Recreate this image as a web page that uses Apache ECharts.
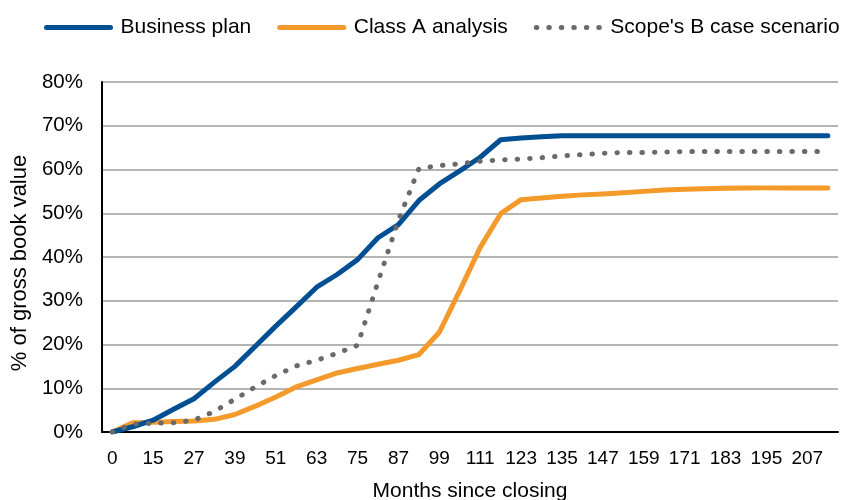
<!DOCTYPE html>
<html>
<head>
<meta charset="utf-8">
<script src="https://cdn.jsdelivr.net/npm/echarts@6/dist/echarts.min.js"></script>
<style>html,body{margin:0;padding:0;background:#fff}#c{width:849px;height:500px}</style>
</head>
<body>
<div id="c"></div>
<script>
// Months since closing (category labels; every other one shown)
var months = ['0','9','15','21','27','33','39','45','51','57','63','69','75','81','87','93','99','105','111','117','123','129','135','141','147','153','159','165','171','177','183','189','195','201','207','213'];
var yTicks = [0, 10, 20, 30, 40, 50, 60, 70, 80];
var businessPlan = [0, 1.2, 2.7, 5.2, 7.6, 11.4, 15.0, 19.6, 24.2, 28.6, 33.1, 36.0, 39.4, 44.4, 47.4, 52.9, 56.7, 59.7, 62.8, 66.8, 67.2, 67.5, 67.7, 67.7, 67.7, 67.7, 67.7, 67.7, 67.7, 67.7, 67.7, 67.7, 67.7, 67.7, 67.7, 67.7];
var classA = [0, 2.1, 2.2, 2.4, 2.5, 2.9, 4.0, 5.9, 8.0, 10.3, 11.9, 13.5, 14.5, 15.5, 16.4, 17.7, 22.8, 32.3, 42.2, 49.9, 53.1, 53.5, 53.9, 54.2, 54.4, 54.7, 55.0, 55.3, 55.5, 55.6, 55.7, 55.75, 55.8, 55.8, 55.8, 55.8];
var scopeB = [0, 1.8, 2.0, 2.1, 2.7, 4.7, 7.5, 10.3, 12.9, 15.1, 16.4, 18.0, 19.8, 34.3, 48.4, 60.2, 60.9, 61.3, 61.9, 62.2, 62.4, 62.7, 63.1, 63.4, 63.7, 63.9, 63.9, 64.0, 64.1, 64.1, 64.1, 64.1, 64.1, 64.1, 64.1, 64.1];

var FONT = 'Liberation Sans, Arial, sans-serif';
var chart = echarts.init(document.getElementById('c'), null, {renderer: 'canvas'});
chart.setOption({
  animation: false,
  backgroundColor: '#ffffff',
  textStyle: {fontFamily: FONT, color: '#000'},
  legend: {
    left: 44, top: 17, width: 805, padding: 0,
    itemWidth: 64, itemHeight: 14, itemGap: 26,
    textStyle: {fontSize: 21, color: '#000', fontFamily: FONT, padding: [0, 0, 0, 5]},
    itemStyle: {opacity: 0},
    lineStyle: {width: 5},
    data: ['Business plan', 'Class A analysis', "Scope's B case scenario"]
  },
  grid: {left: 102, right: 11, top: 82, bottom: 68, containLabel: false, outerBoundsMode: 'none'},
  xAxis: {
    type: 'category',
    data: months,
    boundaryGap: true,
    name: 'Months since closing',
    nameLocation: 'middle',
    nameGap: 49,
    nameTextStyle: {fontSize: 21, color: '#000', fontFamily: FONT},
    axisLine: {show: true, lineStyle: {color: '#000', width: 2}},
    axisTick: {show: false},
    axisLabel: {interval: 1, fontSize: 19, color: '#000', margin: 17, fontFamily: FONT}
  },
  yAxis: {
    type: 'value',
    min: yTicks[0], max: yTicks[yTicks.length - 1], interval: 10,
    name: '% of gross book value',
    nameLocation: 'middle',
    nameGap: 63,
    nameTextStyle: {fontSize: 22, color: '#000', fontFamily: FONT, padding: [0, 12, 0, 0]},
    axisLine: {show: true, lineStyle: {color: '#000', width: 2}},
    axisTick: {show: false},
    axisLabel: {formatter: '{value}%', fontSize: 20.5, color: '#000', margin: 19, fontFamily: FONT},
    splitLine: {show: true, lineStyle: {color: '#b4b4b4', width: 2}}
  },
  series: [
    {
      name: 'Business plan', type: 'line', data: businessPlan,
      symbol: 'none', showSymbol: false, z: 3,
      lineStyle: {color: '#004f92', width: 5, cap: 'round', join: 'round'},
      itemStyle: {color: '#004f92'}
    },
    {
      name: 'Class A analysis', type: 'line', data: classA,
      symbol: 'none', showSymbol: false, z: 2,
      lineStyle: {color: '#f39a2b', width: 5, cap: 'round', join: 'round'},
      itemStyle: {color: '#f39a2b'}
    },
    {
      name: "Scope's B case scenario", type: 'line', data: scopeB,
      symbol: 'none', showSymbol: false, z: 4,
      lineStyle: {color: '#6a6a6a', width: 5, type: [0.5, 12], cap: 'round', join: 'round'},
      itemStyle: {color: '#6a6a6a'}
    }
  ]
});
</script>
</body>
</html>
